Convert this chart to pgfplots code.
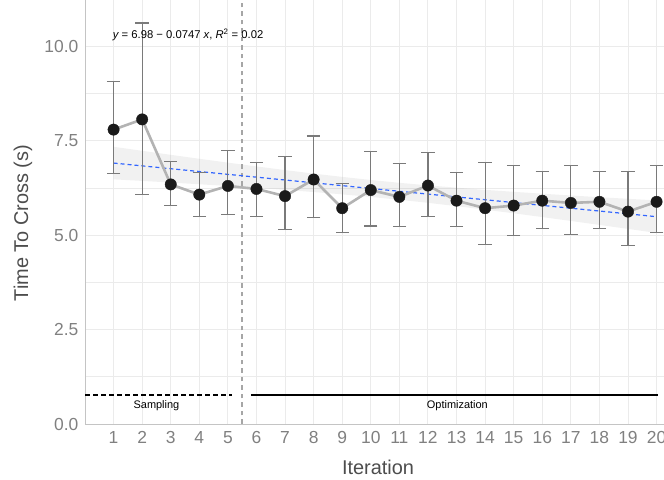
\documentclass[border=0pt]{standalone}
\usepackage{pgfplots}
\pgfplotsset{compat=1.18}
\usepackage{pgfplotstable}
\usepgfplotslibrary{fillbetween}
\usetikzlibrary{calc}
\usepackage{fontspec}
\setmainfont{Liberation Sans}

\definecolor{regblue}{HTML}{3366FF}
\definecolor{linegray}{HTML}{B3B3B3}
\definecolor{errgray}{HTML}{7A7A7A}
\definecolor{ptblack}{HTML}{1A1A1A}
\definecolor{vgray}{HTML}{A6A6A6}
\definecolor{gridgray}{HTML}{EBEBEB}
\definecolor{axgray}{HTML}{C4C4C4}
\definecolor{tickgray}{HTML}{808080}
\definecolor{labgray}{HTML}{4D4D4D}

\pgfplotstableread{
x y ep em
1 7.79 1.27 1.16
2 8.06 2.55 1.98
3 6.34 0.60 0.55
4 6.07 0.59 0.59
5 6.30 0.94 0.76
6 6.22 0.69 0.73
7 6.03 1.06 0.88
8 6.47 1.15 1.00
9 5.71 0.66 0.64
10 6.19 1.01 0.95
11 6.01 0.89 0.79
12 6.31 0.88 0.83
13 5.91 0.75 0.68
14 5.71 1.20 0.97
15 5.78 1.05 0.80
16 5.91 0.77 0.73
17 5.85 1.00 0.84
18 5.88 0.80 0.71
19 5.62 1.06 0.90
20 5.88 0.95 0.81
}\datatab

\pgfplotstableread{
x up lo
1 7.336 6.474
2 7.229 6.433
3 7.123 6.389
4 7.018 6.344
5 6.916 6.298
6 6.816 6.248
7 6.719 6.195
8 6.626 6.138
9 6.539 6.077
10 6.457 6.009
11 6.382 5.934
12 6.315 5.853
13 6.253 5.765
14 6.196 5.672
15 6.144 5.576
16 6.094 5.476
17 6.047 5.373
18 6.002 5.268
19 5.959 5.163
20 5.917 5.055
}\bandtab

\pgfplotstableread{
x fit
1 6.905
20 5.486
}\fittab

\begin{document}
\begin{tikzpicture}
\begin{axis}[
  name=ax, at={(0,0)}, anchor=south west,
  scale only axis, width=579bp, height=424bp,
  xmin=0, xmax=20.26, ymin=0, ymax=11.22,
  xtick={1,...,20},
  ytick={0,2.5,5,7.5,10}, yticklabels={0.0,2.5,5.0,7.5,10.0},
  minor ytick={1.25,3.75,6.25,8.75},
  xmajorgrids, ymajorgrids, yminorgrids,
  major grid style={gridgray, line width=0.9bp},
  minor grid style={gridgray, line width=0.6bp},
  axis lines*=left, axis line style={axgray, line width=1bp, -},
  major tick length=0pt, minor tick length=0pt,
  tick label style={font=\fontsize{17.5}{20}\selectfont, text=tickgray},
  xticklabel style={inner sep=0pt, anchor=north, yshift=-7bp},
  yticklabel style={inner sep=0pt, anchor=east, xshift=-6.5bp},
  /pgf/number format/assume math mode=true,
]
\addplot[name path=bu, draw=none, forget plot] table[x=x,y=up]{\bandtab};
\addplot[name path=bl, draw=none, forget plot] table[x=x,y=lo]{\bandtab};
\addplot[fill=black!40, fill opacity=0.14, draw=none] fill between[of=bu and bl];
\addplot[vgray, line width=1.5bp, dash pattern=on 4.5bp off 4bp] coordinates {(5.5,0) (5.5,11.22)};
\addplot[regblue, line width=1.2bp, dash pattern=on 4bp off 3bp] table[x=x,y=fit]{\fittab};
\addplot[linegray, line width=2.6bp] table[x=x,y=y]{\datatab};
\addplot[errgray, only marks, mark=none, error bars/.cd, y dir=both, y explicit,
  error mark=|,
  error bar style={color=errgray, line width=1.2bp},
  error mark options={color=errgray, line width=1.1bp, mark size=6.7bp}]
  table[x=x,y=y,y error plus=ep,y error minus=em]{\datatab};
\addplot[only marks, mark=*, mark size=5.7bp, mark options={fill=ptblack, draw=ptblack}] table[x=x,y=y]{\datatab};
\addplot[black, line width=2bp, dash pattern=on 5bp off 3bp] coordinates {(0,0.775) (5.13,0.775)};
\addplot[black, line width=2bp] coordinates {(5.8,0.775) (20.06,0.775)};
\node[anchor=base, font=\fontsize{11}{13}\selectfont] at (axis cs:2.5,0.42) {Sampling};
\node[anchor=base, font=\fontsize{11}{13}\selectfont] at (axis cs:13.03,0.42) {Optimization};
\node[anchor=west, inner sep=0pt, font=\fontsize{11.3}{13}\selectfont] at (axis cs:0.97,10.30)
  {\itshape y\upshape{} = 6.98 − 0.0747 \itshape x\upshape, \itshape R\upshape\textsuperscript{2} = 0.02};
\end{axis}
\node[rotate=90, font=\fontsize{20}{24}\selectfont, text=labgray] at ($(ax.south west)+(-62bp,201bp)$) {Time To Cross (s)};
\node[font=\fontsize{20}{24}\selectfont, text=labgray] at ($(ax.south west)+(293bp,-43bp)$) {Iteration};
\pgfresetboundingbox
\useasboundingbox ($(ax.south west)+(-85bp,-56bp)$) rectangle (ax.north east);
\end{tikzpicture}
\end{document}
